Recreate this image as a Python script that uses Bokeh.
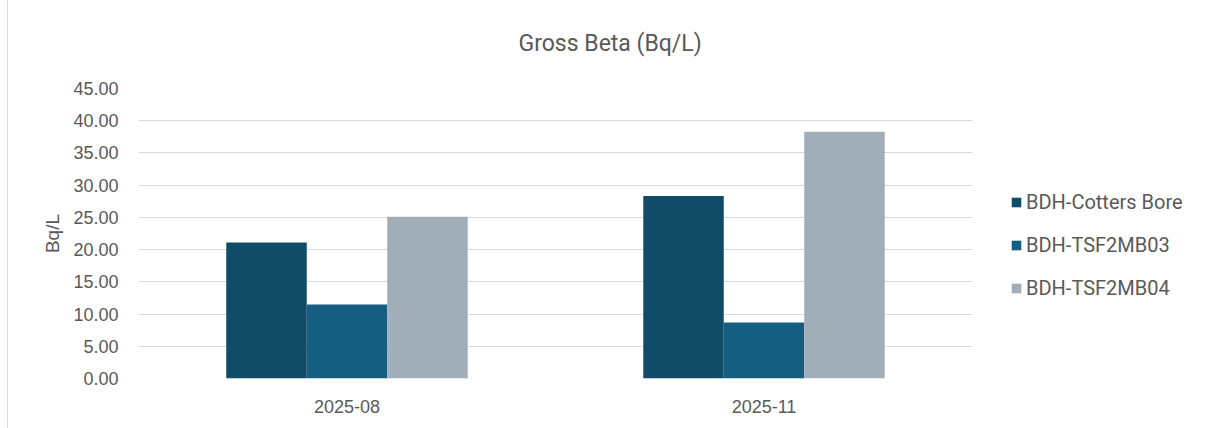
from bokeh.plotting import figure
from bokeh.models import (FactorRange, Range1d, ColumnDataSource, Legend, LegendItem,
                          NumeralTickFormatter, FixedTicker)
from bokeh.transform import dodge
from bokeh.embed import file_html
from bokeh.resources import INLINE

categories = ["2025-08", "2025-11"]
series_names = ["BDH-Cotters Bore", "BDH-TSF2MB03", "BDH-TSF2MB04"]
cotters_bore = [21.1, 28.3]
tsf2mb03 = [11.5, 8.7]
tsf2mb04 = [25.1, 38.3]
y_ticks = [0, 5, 10, 15, 20, 25, 30, 35, 40, 45]
colors = ["#104c67", "#165e7f", "#a1aeb8"]

source = ColumnDataSource(dict(cat=categories, s0=cotters_bore, s1=tsf2mb03, s2=tsf2mb04))

p = figure(x_range=FactorRange(*categories, range_padding=0), y_range=Range1d(0, 45),
           frame_width=834, frame_height=290, output_backend="svg", toolbar_location=None,
           min_border_left=130, min_border_right=235, min_border_top=81, min_border_bottom=51,
           title="Gross Beta (Bq/L)")
p.margin = (-5, 0, 0, 7)
p.styles = {"border": "1px solid #d9d9d9"}
p.outline_line_color = None
p.background_fill_color = "white"
p.border_fill_color = "white"

p.title.text_font = "Roboto"
p.title.text_font_size = "23px"
p.title.text_font_style = "normal"
p.title.text_color = "#595959"
p.title.align = "left"
p.title.offset = 380
p.title.standoff = 63

bw = 0.193
renderers = []
for i, key in enumerate(["s0", "s1", "s2"]):
    r = p.vbar(x=dodge("cat", (i - 1) * bw, range=p.x_range), top=key, width=bw,
               source=source, fill_color=colors[i], line_color=None)
    renderers.append(r)

legend = Legend(items=[LegendItem(label=series_names[i], renderers=[renderers[i]]) for i in range(3)],
                location=(38, 78), orientation="vertical")
legend.border_line_color = None
legend.background_fill_alpha = 0
legend.padding = 0
legend.margin = 0
legend.spacing = 19
legend.glyph_width = 12
legend.glyph_height = 12
legend.label_height = 22
legend.label_standoff = 4
legend.label_text_font = "Roboto"
legend.label_text_font_size = "20px"
legend.label_text_color = "#595959"
p.add_layout(legend, "right")

p.yaxis.ticker = FixedTicker(ticks=y_ticks)
p.yaxis.formatter = NumeralTickFormatter(format="0.00")
p.yaxis.axis_label = "Bq/L"
p.yaxis.axis_label_text_font = "Liberation Sans"
p.yaxis.axis_label_text_font_size = "19px"
p.yaxis.axis_label_text_font_style = "normal"
p.yaxis.axis_label_text_color = "#595959"
p.yaxis.axis_label_standoff = 7

for ax in [p.xaxis[0], p.yaxis[0]]:
    ax.axis_line_color = None
    ax.major_tick_line_color = None
    ax.minor_tick_line_color = None
    ax.major_label_text_font = "Liberation Sans"
    ax.major_label_text_font_size = "18px"
    ax.major_label_text_color = "#595959"
p.yaxis.major_label_standoff = 14
p.xaxis.major_label_standoff = 15

p.xgrid.grid_line_color = None
p.ygrid.grid_line_color = "#d9d9d9"
p.ygrid.grid_line_width = 1

open("out.html", "w").write(file_html(p, INLINE))
